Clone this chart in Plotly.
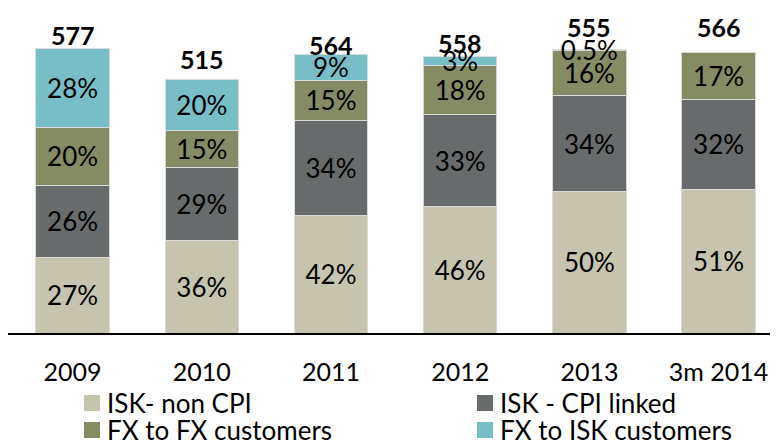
import plotly.graph_objects as go

categories = ["2009", "2010", "2011", "2012", "2013", "3m 2014"]
totals = [577, 515, 564, 558, 555, 566]

isk_non_cpi = [154, 187, 239, 256, 286, 292]
isk_cpi = [146, 148, 191, 187, 195, 181]
fx_fx = [116, 75, 83, 99, 91, 95]
fx_isk = [160, 105, 51, 18, 3, 0]

pct_isk_non_cpi = ["27%", "36%", "42%", "46%", "50%", "51%"]
pct_isk_cpi = ["26%", "29%", "34%", "33%", "34%", "32%"]
pct_fx_fx = ["20%", "15%", "15%", "18%", "16%", "17%"]
pct_fx_isk = ["28%", "20%", "9%", "3%", "0.5%", ""]

names = ["ISK- non CPI", "ISK - CPI linked", "FX to FX customers", "FX to ISK customers"]
colors = ["#C6C4AE", "#686B6C", "#858B62", "#77BEC6"]

FONT = "Lato, Open Sans, sans-serif"

fig = go.Figure()
for name, vals, txt, col in zip(names, [isk_non_cpi, isk_cpi, fx_fx, fx_isk],
                                [pct_isk_non_cpi, pct_isk_cpi, pct_fx_fx, pct_fx_isk], colors):
    fig.add_trace(go.Bar(
        x=categories, y=vals, name=name, text=txt,
        textposition="inside", insidetextanchor="middle", constraintext="none",
        textfont=dict(family=FONT, size=26, color="black"),
        marker=dict(color=col, line=dict(color="#DADADA", width=1)),
        hoverinfo="skip", showlegend=False,
    ))

# total labels above each stack
stack_tops = [a + b + c + d for a, b, c, d in zip(isk_non_cpi, isk_cpi, fx_fx, fx_isk)]
label_lift = [0, 6, -4, 0, 8, 12]
for i, (top, tot, lift) in enumerate(zip(stack_tops, totals, label_lift)):
    fig.add_annotation(x=i, y=top, xref="x", yref="y", text=f"<b>{tot}</b>", showarrow=False,
                       yanchor="bottom", yshift=-3 + lift,
                       font=dict(family=FONT, size=25, color="black"))

# legend drawn as two columns below the axis (page pixel positions)
legend_cols = [0, 1, 0, 1]
legend_rows = [0, 0, 1, 1]
col_x = [84, 477]      # swatch left edge
row_y = [403, 430]     # row centre
PLOT_LEFT, PLOT_W, BASE, PLOT_H = 8, 770, 333, 323
for name, col, c, r in zip(names, colors, legend_cols, legend_rows):
    x0 = col_x[c]
    yc = row_y[r]
    fig.add_shape(type="rect", xref="paper", yref="paper",
                  x0=(x0 - PLOT_LEFT) / PLOT_W, x1=(x0 + 16 - PLOT_LEFT) / PLOT_W,
                  y0=(BASE - (yc + 8)) / PLOT_H, y1=(BASE - (yc - 8)) / PLOT_H,
                  fillcolor=col, line=dict(width=0))
    fig.add_annotation(xref="paper", yref="paper", x=(x0 + 21 - PLOT_LEFT) / PLOT_W,
                       y=(BASE - yc) / PLOT_H,
                       xanchor="left", yanchor="middle", showarrow=False, text=name,
                       font=dict(family=FONT, size=26, color="black"))

# the page body adds an 8px offset, so the figure is 770x433
fig.update_layout(
    width=770, height=433,
    margin=dict(l=0, r=0, t=2, b=108),
    barmode="stack", bargap=0.431,
    plot_bgcolor="white", paper_bgcolor="white",
    showlegend=False,
    xaxis=dict(type="category", range=[-0.5, 5.46], showline=True, linecolor="black",
               linewidth=1.5, ticks="", showgrid=False, ticklabelstandoff=16,
               tickfont=dict(family=FONT, size=25, color="black")),
    yaxis=dict(range=[0, 655], visible=False, showgrid=False),
)

fig.write_html("out.html")
